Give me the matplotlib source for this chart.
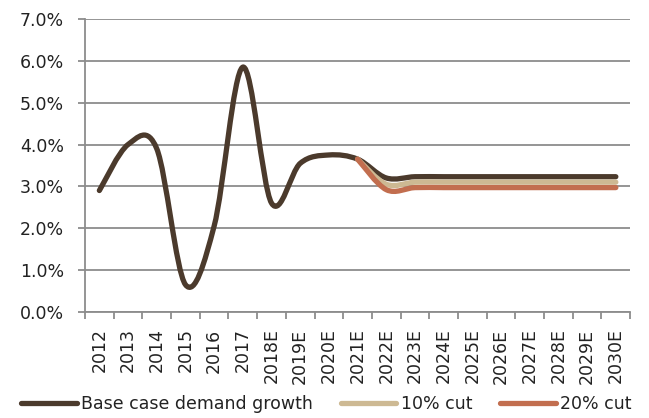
import matplotlib.pyplot as plt
import numpy as np
from matplotlib.path import Path
from matplotlib.patches import PathPatch
from matplotlib.lines import Line2D
from matplotlib.ticker import FuncFormatter, FixedLocator

plt.rcParams['font.family'] = ['DejaVu Sans']

years = ['2012', '2013', '2014', '2015', '2016', '2017', '2018E', '2019E', '2020E',
         '2021E', '2022E', '2023E', '2024E', '2025E', '2026E', '2027E', '2028E',
         '2029E', '2030E']
base = [2.9, 4.0, 3.9, 0.65, 2.05, 5.85, 2.6, 3.55, 3.75,
        3.65, 3.2, 3.23, 3.23, 3.23, 3.23, 3.23, 3.23, 3.23, 3.23]
cut10 = [None] * 9 + [3.65, 3.05, 3.1, 3.1, 3.1, 3.1, 3.1, 3.1, 3.1, 3.1]
cut20 = [None] * 9 + [3.65, 2.92, 2.97, 2.97, 2.97, 2.97, 2.97, 2.97, 2.97, 2.97]

names = ['Base case demand growth', '10% cut', '20% cut']
colors = ['#4b3a2c', '#cdb993', '#c26e4f']


def smooth_path(xs, ys):
    # Excel-style smoothed line: cubic bezier through the points
    p = np.column_stack([xs, ys])
    ext = np.vstack([p[0], p, p[-1]])
    verts = [p[0]]
    codes = [Path.MOVETO]
    for i in range(len(p) - 1):
        a, b, c, d = ext[i], ext[i + 1], ext[i + 2], ext[i + 3]
        verts += [b + (c - a) / 6, c - (d - b) / 6, c]
        codes += [Path.CURVE4] * 3
    return Path(verts, codes)


fig, ax = plt.subplots(figsize=(6.49, 4.18), dpi=100)
fig.subplots_adjust(left=0.131, right=0.971, top=0.9545, bottom=0.254)

for series, col in zip([base, cut10, cut20], colors):
    xs = [i for i, v in enumerate(series) if v is not None]
    ys = [v for v in series if v is not None]
    patch = PathPatch(smooth_path(xs, ys), facecolor='none', edgecolor=col,
                      lw=3.8, capstyle='round', joinstyle='round', zorder=3)
    ax.add_patch(patch)

ax.set_xlim(-0.5, len(years) - 0.5)
ax.set_ylim(0, 7)
ax.set_yticks(np.arange(0, 7.01, 1))
ax.yaxis.set_major_formatter(FuncFormatter(lambda v, _: f'{v:.1f}%'))
ax.set_xticks(range(len(years)))
ax.set_xticklabels(years, rotation=90)
ax.xaxis.set_minor_locator(FixedLocator(np.arange(-0.5, len(years), 1)))

ax.grid(axis='y', color='#8c8c8c', lw=1.3)
ax.set_axisbelow(True)
for s in ['top', 'right']:
    ax.spines[s].set_visible(False)
for s in ['left', 'bottom']:
    ax.spines[s].set_color('#8c8c8c')
    ax.spines[s].set_linewidth(1.3)

ax.tick_params(axis='y', length=5, width=1.3, color='#8c8c8c', pad=10,
               labelsize=12.5, labelcolor='#222222')
ax.tick_params(axis='x', which='major', length=0, pad=12, labelsize=12.5,
               labelcolor='#222222')
ax.tick_params(axis='x', which='minor', length=5, width=1.3, color='#8c8c8c')

handles = [Line2D([], [], color=c, lw=3.8, solid_capstyle='round') for c in colors]
fig.legend(handles, names, loc='lower center', bbox_to_anchor=(0.503, -0.025), ncol=3,
           frameon=False, fontsize=12.5, handlelength=3.2, handletextpad=0.25,
           columnspacing=1.6, labelcolor='#222222')

fig.savefig('out.png', dpi=100)
